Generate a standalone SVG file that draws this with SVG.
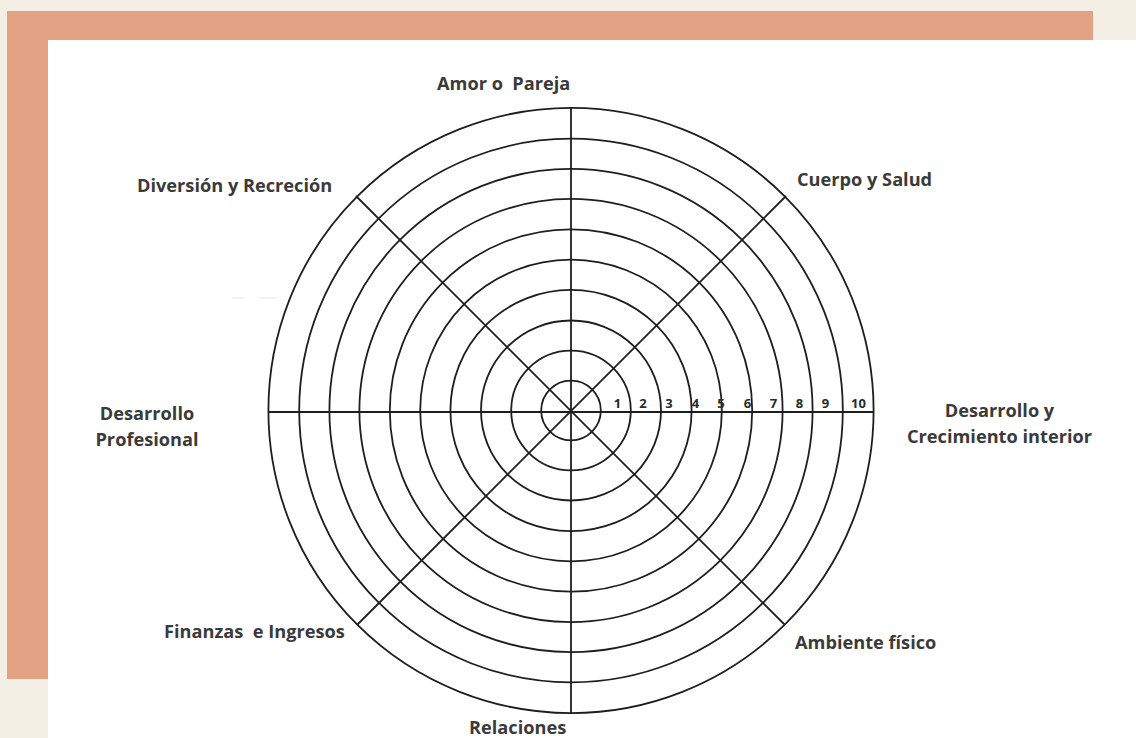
<svg xmlns="http://www.w3.org/2000/svg" width="1136" height="738" viewBox="0 0 1136 738">
<style>
.ring{fill:none;stroke:#1e1e1e;stroke-width:1.8}
.spoke{stroke:#1e1e1e;stroke-width:1.8}
.lbl{font-family:"Open Sans","Liberation Sans",sans-serif;font-weight:700;font-size:18.2px;fill:#3a3a3a;white-space:pre}
.num{font-family:"Open Sans","Liberation Sans",sans-serif;font-weight:700;font-size:13px;fill:#2a2a2a;text-anchor:middle}
</style>
<rect x="0" y="0" width="1136" height="738" fill="#f3efe4"/>
<rect x="7" y="11" width="1086" height="668" fill="#e2a283"/>
<rect x="48" y="40" width="1088" height="698" fill="#ffffff"/>
<g id="faint">
<line x1="232" y1="298" x2="244" y2="298" stroke="#eeeeee" stroke-width="1.5"/>
<line x1="259" y1="298" x2="277" y2="298" stroke="#eeeeee" stroke-width="1.5"/>
</g>
<g id="wheel">
<circle class="ring" cx="571" cy="410.5" r="29.8"/>
<circle class="ring" cx="571" cy="410.5" r="59.8"/>
<circle class="ring" cx="571" cy="410.5" r="90"/>
<circle class="ring" cx="571" cy="410.5" r="120.6"/>
<circle class="ring" cx="571" cy="410.5" r="150.8"/>
<circle class="ring" cx="571" cy="410.5" r="181.2"/>
<circle class="ring" cx="571" cy="410.5" r="211.6"/>
<circle class="ring" cx="571" cy="410.5" r="241.6"/>
<circle class="ring" cx="571" cy="410.5" r="271.8"/>
<circle class="ring" cx="571" cy="410.5" r="302.6"/>
</g>
<g id="connectors">
<line class="spoke" x1="571" y1="107.5" x2="571" y2="713"/>
<line class="spoke" x1="268.5" y1="412" x2="873.5" y2="412"/>
<line class="spoke" x1="356" y1="196" x2="785" y2="625"/>
<line class="spoke" x1="786" y1="196" x2="357" y2="625"/>
</g>
<g id="scale">
<text class="num" x="617.5" y="408">1</text>
<text class="num" x="643" y="408">2</text>
<text class="num" x="669" y="408">3</text>
<text class="num" x="695.5" y="408">4</text>
<text class="num" x="721" y="408">5</text>
<text class="num" x="747.5" y="408">6</text>
<text class="num" x="773.5" y="408">7</text>
<text class="num" x="799.5" y="408">8</text>
<text class="num" x="825.5" y="408">9</text>
<text class="num" x="858.5" y="408">10</text>
</g>
<g id="n-amor"><text class="lbl" x="437" y="90" xml:space="preserve">Amor o  Pareja</text></g>
<g id="n-diversion"><text class="lbl" x="137" y="192">Diversión y Recreción</text></g>
<g id="n-cuerpo"><text class="lbl" x="797" y="186">Cuerpo y Salud</text></g>
<g id="n-profesional"><text class="lbl" text-anchor="middle" x="147" y="420">Desarrollo</text><text class="lbl" text-anchor="middle" x="147" y="446">Profesional</text></g>
<g id="n-interior"><text class="lbl" text-anchor="middle" x="999.5" y="417">Desarrollo y</text><text class="lbl" text-anchor="middle" x="999.5" y="443">Crecimiento interior</text></g>
<g id="n-finanzas"><text class="lbl" x="164" y="638" xml:space="preserve">Finanzas  e Ingresos</text></g>
<g id="n-ambiente"><text class="lbl" x="795" y="649">Ambiente físico</text></g>
<g id="n-relaciones"><text class="lbl" x="469" y="734">Relaciones</text></g>
</svg>
